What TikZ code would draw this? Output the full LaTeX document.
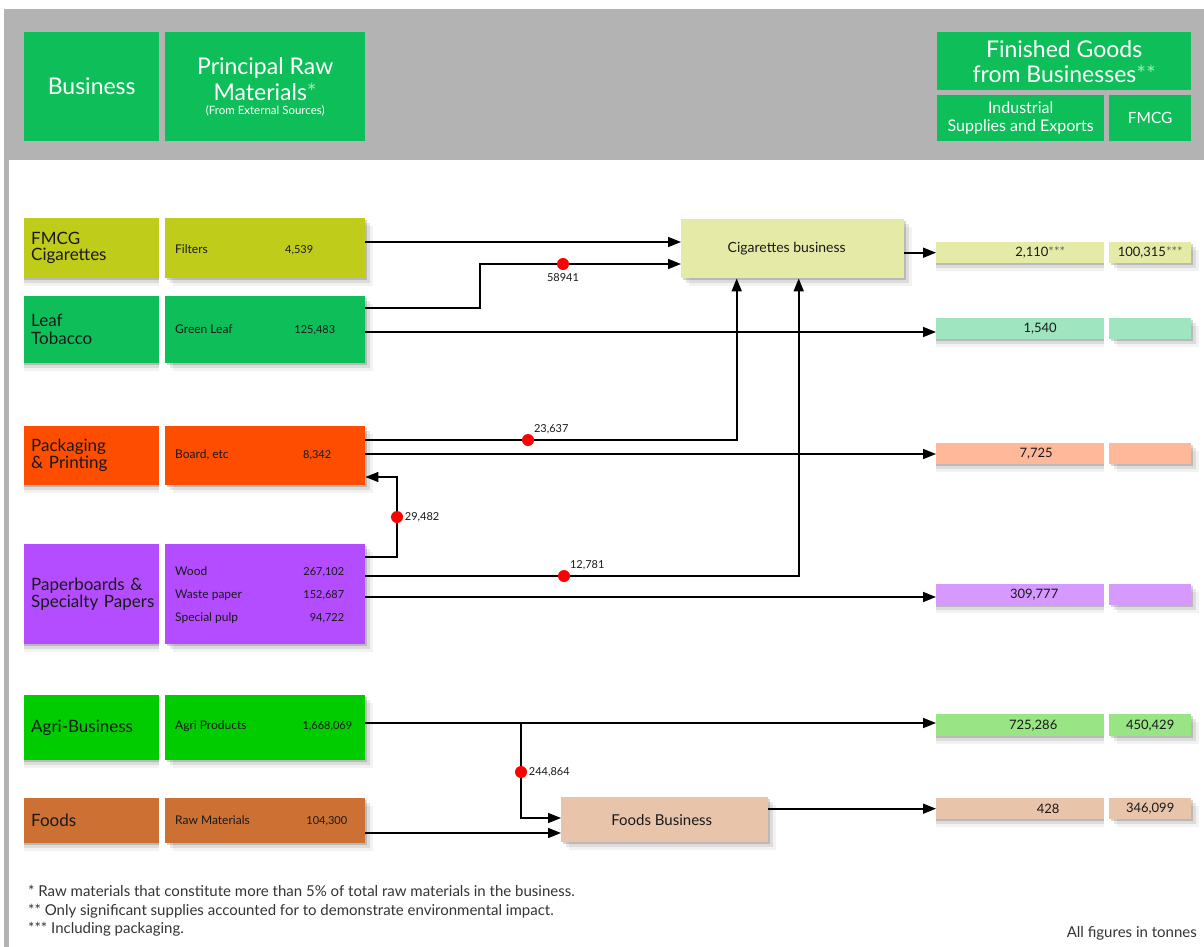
\documentclass[tikz,border=0pt]{standalone}
\usepackage{fontspec}
\setmainfont{Lato}
\usetikzlibrary{arrows.meta,shadows,positioning}

\definecolor{itcGreen}{RGB}{14,191,89}
\definecolor{frameGray}{RGB}{179,179,179}
\definecolor{cigOlive}{RGB}{191,204,26}
\definecolor{packRed}{RGB}{255,77,0}
\definecolor{paperViolet}{RGB}{180,77,255}
\definecolor{agriGreen}{RGB}{0,204,0}
\definecolor{foodsBrown}{RGB}{204,112,51}
\definecolor{cigPale}{RGB}{229,235,166}
\definecolor{leafPale}{RGB}{159,229,191}
\definecolor{packPale}{RGB}{255,184,153}
\definecolor{paperPale}{RGB}{214,153,255}
\definecolor{agriPale}{RGB}{153,229,133}
\definecolor{foodsPale}{RGB}{232,196,170}
\definecolor{dotRed}{RGB}{255,0,0}
\colorlet{astPale}{white!60!itcGreen}

\tikzset{
  softshadow/.style={
    drop shadow={shadow xshift=#1, shadow yshift=-2pt, fill=black, opacity=.16},
    drop shadow={shadow xshift=#1*2.5, shadow yshift=-5pt, fill=black, opacity=.09},
    drop shadow={shadow xshift=#1*4, shadow yshift=-8pt, fill=black, opacity=.05}},
  hdr/.style={fill=itcGreen, text=white, anchor=north west, inner sep=0pt, align=center},
  bizbox/.style={softshadow=0pt, anchor=north west, inner sep=0pt, minimum width=135pt,
    text width=121pt, align=left, text=black!90, font=\fontsize{17}{17}\selectfont},
  matbox/.style={softshadow=2pt, anchor=north west, inner sep=0pt, minimum width=200pt},
  mattxt/.style={inner sep=0pt, text=black!90, font=\fontsize{12}{12}\selectfont},
  matnum/.style={inner sep=0pt, text=black!90, font=\fontsize{11}{11}\selectfont},
  hubbox/.style={softshadow=2pt, anchor=north west, inner sep=0pt, text=black!90},
  outbox/.style={anchor=north west, inner sep=0pt, minimum height=21pt, text=black!90,
    font=\fontsize{13}{13}\selectfont},
  outnum/.style={inner sep=0pt, text=black!90, font=\fontsize{13}{13}\selectfont},
  flow/.style={line width=1.6pt, line join=miter, -{Triangle[length=13pt,width=10pt]}},
  dot/.style={circle, fill=dotRed, inner sep=0pt, minimum size=12pt},
  flowlbl/.style={inner sep=1.5pt, text=black!90, font=\fontsize{11}{11}\selectfont},
}

\begin{document}
\begin{tikzpicture}[x=1pt, y=-1pt]
    \useasboundingbox (0,0) rectangle (1204,947);
    % frame
    \fill[frameGray] (4,9) rectangle (1204,160);
    \fill[frameGray] (4,160) rectangle (9,947);

    % header
    \node[hdr, minimum width=135pt, minimum height=109pt, font=\fontsize{23}{23}\selectfont] (hbiz) at (24,32) {Business};
    \node[hdr, minimum width=200pt, minimum height=109pt, font=\fontsize{23}{26}\selectfont] (hraw) at (165,32)
        {Principal Raw\\Materials\textcolor{astPale}{*}\\[-12pt]{\fontsize{11.5}{12}\selectfont (From External Sources)}};
    \node[hdr, minimum width=254pt, minimum height=58pt, font=\fontsize{23}{25}\selectfont] (hfin) at (937,32)
        {Finished Goods\\from Businesses\textcolor{astPale}{**}};
    \node[hdr, minimum width=167pt, minimum height=46pt, font=\fontsize{16}{18}\selectfont] (hind) at (937,95) {Industrial\\Supplies and Exports};
    \node[hdr, minimum width=82pt, minimum height=46pt, font=\fontsize{15.5}{17}\selectfont] (hfmcg) at (1109,95) {FMCG};

    % businesses and raw materials
    \node[bizbox, fill=cigOlive, minimum height=60pt] (cigbiz) at (24,218) {FMCG\\[-1pt]Cigarettes};
    \node[matbox, fill=cigOlive, minimum height=60pt] (cigmat) at (165,218) {};
    \node[mattxt, anchor=base west] (cigraw) at ([xshift=10pt, yshift=-35pt]cigmat.north west) {Filters};
    \node[matnum, anchor=base east] (cigqty) at ([xshift=-52pt, yshift=-35pt]cigmat.north east) {4,539};

    \node[bizbox, fill=itcGreen, minimum height=67pt] (leafbiz) at (24,296) {Leaf\\[1pt]Tobacco};
    \node[matbox, fill=itcGreen, minimum height=67pt] (leafmat) at (165,296) {};
    \node[mattxt, anchor=base west] (leafraw) at ([xshift=10pt, yshift=-37pt]leafmat.north west) {Green Leaf};
    \node[matnum, anchor=base east] (leafqty) at ([xshift=-30pt, yshift=-37pt]leafmat.north east) {125,483};

    \node[bizbox, fill=packRed, minimum height=59pt] (packbiz) at (24,426) {Packaging\\\& Printing};
    \node[matbox, fill=packRed, minimum height=59pt] (packmat) at (165,426) {};
    \node[mattxt, anchor=base west] (packraw) at ([xshift=10pt, yshift=-32pt]packmat.north west) {Board, etc};
    \node[matnum, anchor=base east] (packqty) at ([xshift=-34pt, yshift=-32pt]packmat.north east) {8,342};

    \node[bizbox, fill=paperViolet, minimum height=100pt] (paperbiz) at (24,544) {\mbox{Paperboards \&}\\\mbox{Specialty Papers}};
    \node[matbox, fill=paperViolet, minimum height=100pt] (papermat) at (165,544) {};
    \node[mattxt, anchor=base west] (woodraw) at ([xshift=10pt, yshift=-31pt]papermat.north west) {Wood};
    \node[matnum, anchor=base east] (woodqty) at ([xshift=-21pt, yshift=-31pt]papermat.north east) {267,102};
    \node[mattxt, anchor=base west] (wasteraw) at ([xshift=10pt, yshift=-54pt]papermat.north west) {Waste paper};
    \node[matnum, anchor=base east] (wasteqty) at ([xshift=-21pt, yshift=-54pt]papermat.north east) {152,687};
    \node[mattxt, anchor=base west] (pulpraw) at ([xshift=10pt, yshift=-77pt]papermat.north west) {Special pulp};
    \node[matnum, anchor=base east] (pulpqty) at ([xshift=-21pt, yshift=-77pt]papermat.north east) {94,722};

    \node[bizbox, fill=agriGreen, minimum height=65pt] (agribiz) at (24,695) {Agri-Business};
    \node[matbox, fill=agriGreen, minimum height=65pt] (agrimat) at (165,695) {};
    \node[mattxt, anchor=base west] (agriraw) at ([xshift=10pt, yshift=-34pt]agrimat.north west) {Agri Products};
    \node[matnum, anchor=base east] (agriqty) at ([xshift=-13pt, yshift=-34pt]agrimat.north east) {1,668,069};

    \node[bizbox, fill=foodsBrown, minimum height=45pt] (foodbiz) at (24,798) {Foods};
    \node[matbox, fill=foodsBrown, minimum height=45pt] (foodmat) at (165,798) {};
    \node[mattxt, anchor=base west] (foodraw) at ([xshift=10pt, yshift=-26pt]foodmat.north west) {Raw Materials};
    \node[matnum, anchor=base east] (foodqty) at ([xshift=-18pt, yshift=-26pt]foodmat.north east) {104,300};

    % processing businesses
    \node[hubbox, fill=cigPale, minimum width=223pt, minimum height=59pt, font=\fontsize{14}{14}\selectfont] (cigbus) at (681,219) {Cigarettes business\hspace*{12pt}};
    \node[hubbox, fill=foodsPale, minimum width=207pt, minimum height=45pt, font=\fontsize{15}{15}\selectfont] (foodbus) at (561,797) {Foods Business\hspace*{6pt}};

    % finished goods
    \node[outbox, softshadow=0pt, fill=cigPale, minimum width=168pt] (cigout) at (936,242) {};
    \node[outbox, softshadow=2pt, fill=cigPale, minimum width=82pt] (cigoutf) at (1109,242) {100,315\textcolor{black!60}{***}};
    \node[outnum] (cignum) at ([xshift=20pt]cigout.center) {2,110\textcolor{black!60}{***}};
    \node[outbox, softshadow=0pt, fill=leafPale, minimum width=168pt] (leafout) at (936,318) {};
    \node[outbox, softshadow=2pt, fill=leafPale, minimum width=82pt] (leafoutf) at (1109,318) {};
    \node[outnum] (leafnum) at ([xshift=20pt]leafout.center) {1,540};
    \node[outbox, softshadow=0pt, fill=packPale, minimum width=168pt] (packout) at (936,443) {};
    \node[outbox, softshadow=2pt, fill=packPale, minimum width=82pt] (packoutf) at (1109,443) {};
    \node[outnum] (packnum) at ([xshift=16pt]packout.center) {7,725};
    \node[outbox, softshadow=0pt, fill=paperPale, minimum width=168pt] (paperout) at (936,584) {};
    \node[outbox, softshadow=2pt, fill=paperPale, minimum width=82pt] (paperoutf) at (1109,584) {};
    \node[outnum] (papernum) at ([xshift=14pt]paperout.center) {309,777};
    \node[outbox, softshadow=0pt, fill=agriPale, minimum width=168pt, minimum height=22pt] (agriout) at (936,714) {};
    \node[outbox, softshadow=2pt, fill=agriPale, minimum width=82pt, minimum height=22pt] (agrioutf) at (1109,714) {450,429};
    \node[outnum] (agrinum) at ([xshift=13pt]agriout.center) {725,286};
    \node[outbox, softshadow=0pt, fill=foodsPale, minimum width=168pt] (foodout) at (936,798) {};
    \node[outbox, softshadow=2pt, fill=foodsPale, minimum width=82pt] (foodoutf) at (1109,798) {346,099};
    \node[outnum] (foodnum) at ([xshift=28pt]foodout.center) {428};

    % transfers between businesses
    \coordinate (m1) at (563,264);
    \coordinate (m2) at (528,440);
    \coordinate (m3) at (397,517);
    \coordinate (m4) at (564,576);
    \coordinate (m5) at (521,772);

    \draw[flow] ([yshift=-24pt]cigmat.north east) coordinate (f1) -- (f1 -| cigbus.west);
    \draw[flow] ([yshift=-12pt]leafmat.north east) -| ([xshift=-83pt]m1) -- (m1 -| cigbus.west);
    \draw[flow] ([yshift=-36pt]leafmat.north east) coordinate (f3) -- (f3 -| leafout.west);
    \draw[flow] ([yshift=-14pt]packmat.north east) -| ([xshift=-56pt]cigbus.south);
    \draw[flow] ([yshift=-28pt]packmat.north east) coordinate (f5) -- (f5 -| packout.west);
    \draw[flow] ([yshift=-13pt]papermat.north east) -| (m3) |- ([yshift=-51pt]packmat.north east);
    \draw[flow] ([yshift=-32pt]papermat.north east) -| ([xshift=6pt]cigbus.south);
    \draw[flow] ([yshift=-53pt]papermat.north east) coordinate (f8) -- (f8 -| paperout.west);
    \draw[flow] ([yshift=-28pt]agrimat.north east) coordinate (f9) -- (f9 -| agriout.west);
    \draw[flow] (f9 -| m5) |- ([yshift=-21pt]foodbus.north west);
    \draw[flow] ([yshift=-35pt]foodmat.north east) coordinate (f11) -- (f11 -| foodbus.west);
    \draw[flow] (cigout.west -| cigbus.east) -- (cigout.west);
    \draw[flow] (foodout.west -| foodbus.east) -- (foodout.west);

    \node[dot, label={[flowlbl, label distance=2pt]below:58941}] (d1) at (m1) {};
    \node[dot, label={[flowlbl, anchor=south west]north east:23,637}] (d2) at (m2) {};
    \node[dot, label={[flowlbl]right:29,482}] (d3) at (m3) {};
    \node[dot, label={[flowlbl, anchor=south west]north east:12,781}] (d4) at (m4) {};
    \node[dot, label={[flowlbl]right:244,864}] (d5) at (m5) {};

    % notes
    \node[anchor=north west, align=left, inner sep=0pt, text=black!80, font=\fontsize{15}{18.5}\selectfont] (notes) at (28,885)
        {* Raw materials that constitute more than 5\% of total raw materials in the business.\\
         ** Only significant supplies accounted for to demonstrate environmental impact.\\
         *** Including packaging.};
    \node[anchor=base east, inner sep=0pt, text=black!80, font=\fontsize{15}{15}\selectfont] (units) at (1197,937) {All figures in tonnes};
\end{tikzpicture}
\end{document}
